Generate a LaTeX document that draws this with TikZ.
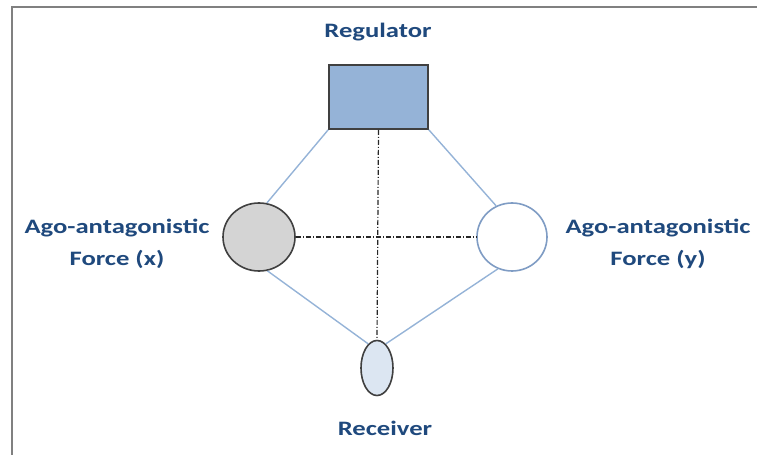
\documentclass[tikz,border=0pt]{standalone}
\usepackage{fontspec}
\setmainfont{Carlito}
\usetikzlibrary{shapes.geometric}
\definecolor{labelblue}{RGB}{31,73,125}
\definecolor{regfill}{RGB}{149,179,215}
\definecolor{recfill}{RGB}{220,230,242}
\definecolor{linkblue}{RGB}{149,179,215}
\definecolor{rimblue}{RGB}{127,156,196}
\definecolor{rimgray}{RGB}{64,64,64}

\begin{document}
\begin{tikzpicture}[x=1pt, y=1pt,
		lbl/.style={font=\bfseries\fontsize{20.5}{32}\selectfont, text=labelblue, align=center, xscale=1.3},
		main/.style={draw=rimgray, line width=1.6pt, ellipse, inner sep=0pt},
		link/.style={draw=linkblue, line width=1.4pt},
		axis/.style={draw=black!85, line width=1.2pt, dash pattern=on 5pt off 2pt on 1pt off 2pt}]
		\useasboundingbox (0,0) rectangle (757,455);
		\draw[gray, line width=1.6pt] (757,448) -- (12,448) -- (12,0);

		\node[draw=rimgray, fill=regfill, line width=1.6pt, minimum width=99pt, minimum height=64pt, inner sep=0pt] (reg) at (378.5,358) {};
		\node[main, fill=black!17, minimum width=72pt, minimum height=68pt] (fx) at (259,218) {};
		\node[main, draw=rimblue, fill=white, minimum width=70pt, minimum height=68pt] (fy) at (512,218) {};
		\node[main, fill=recfill, minimum width=32pt, minimum height=55pt] (rec) at (377,87) {};

		\node[lbl] (reglbl) at (378,423) {Regulator};
		\node[lbl] (reclbl) at (385,27) {Receiver};
		\node[lbl] (fxlbl) at (117,211) {Ago-antagonistic\\Force (x)};
		\node[lbl] (fylbl) at (658,211) {Ago-antagonistic\\Force (y)};

		\draw[link] (reg.south west) -- (fx.77);
		\draw[link] (reg.south east) -- (fy.117);
		\draw[link] (fx.-76) -- (rec.110);
		\draw[link] (fy.-114) -- (rec.70);

		\draw[axis] (reg.south) -- (rec.north);
		\draw[axis] (fx.east) -- (fy.west);
	\end{tikzpicture}
\end{document}
